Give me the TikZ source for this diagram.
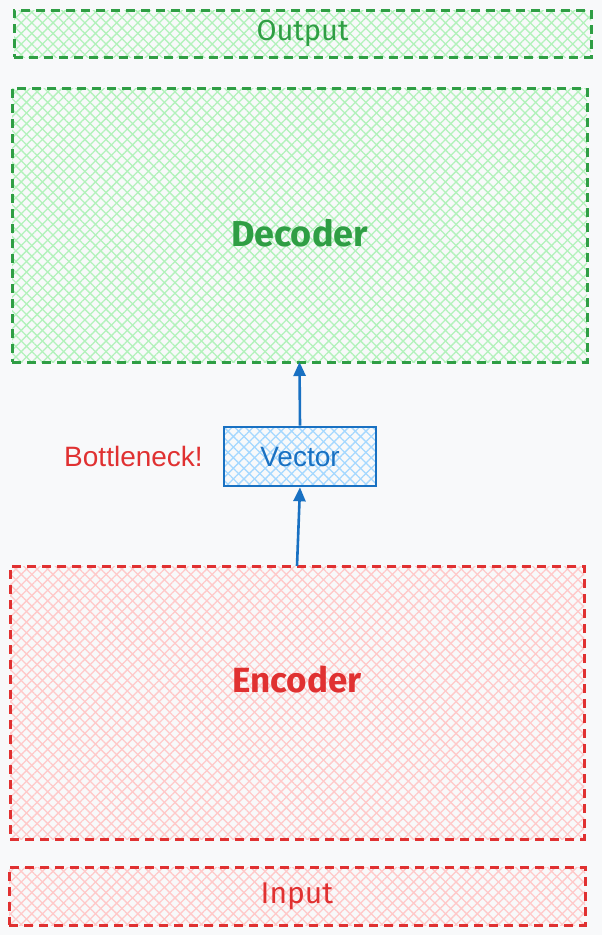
\documentclass[tikz,border=0pt]{standalone}
\usepackage{fontspec}
\setmainfont{Liberation Sans}
\newfontfamily\handfont{Fira Sans}
\usetikzlibrary{arrows.meta,patterns.meta}
\definecolor{bgcol}{HTML}{F8F9FA}
\definecolor{grline}{HTML}{2F9E44}
\definecolor{grfill}{HTML}{B2F2BB}
\definecolor{rdline}{HTML}{E03131}
\definecolor{rdfill}{HTML}{FFC9C9}
\definecolor{blline}{HTML}{1971C2}
\definecolor{blfill}{HTML}{A5D8FF}
\begin{document}
\begin{tikzpicture}[x=1pt,y=-1pt,
    hatch/.style={preaction={pattern={Lines[angle=45,distance=7.5pt,line width=1.3pt]},pattern color=#1},
        pattern={Lines[angle=-45,distance=7.5pt,line width=1.3pt]},pattern color=#1},
    block/.style={draw, dash pattern=on 9pt off 6pt, line width=3pt, inner sep=0pt, outer sep=0pt},
    green block/.style={block, draw=grline, hatch=grfill, text=grline},
    red block/.style={block, draw=rdline, hatch=rdfill, text=rdline},
    arr/.style={draw=blline, line width=2.6pt, -{Triangle[length=14pt,width=12pt]}}]
    \useasboundingbox (0,0) rectangle (602,935);
    \fill[bgcol] (0,0) rectangle (602,935);

    \node[green block, minimum width=577pt, minimum height=47pt, font=\handfont\fontsize{29}{30}\selectfont] (out) at (302.5,33.5) {Output};
    \node[green block, minimum width=575pt, minimum height=274pt,
        label={[text=grline, font=\handfont\bfseries\fontsize{36}{38}\selectfont, yshift=-8pt]center:Decoder}] (dec) at (299.5,225) {};

    \node[draw=blline, line width=2.6pt, hatch=blfill, text=blline, inner sep=0pt, minimum width=152pt, minimum height=59pt,
        font=\fontsize{28}{30}\selectfont] (vec) at (300,456.5) {Vector};
    \node[text=rdline, font=\fontsize{28}{30}\selectfont] (neck) at (133.5,456) {Bottleneck!};

    \node[red block, minimum width=574pt, minimum height=273pt,
        label={[text=rdline, font=\handfont\bfseries\fontsize{35}{37}\selectfont, yshift=23pt]center:Encoder}] (enc) at (297,702.5) {};
    \node[red block, minimum width=576pt, minimum height=58pt, font=\handfont\fontsize{30}{32}\selectfont] (in) at (297,896) {Input};

    \draw[arr] (enc.north) -- (vec.south);
    \draw[arr] (vec.north) -- (dec.south);
\end{tikzpicture}
\end{document}
